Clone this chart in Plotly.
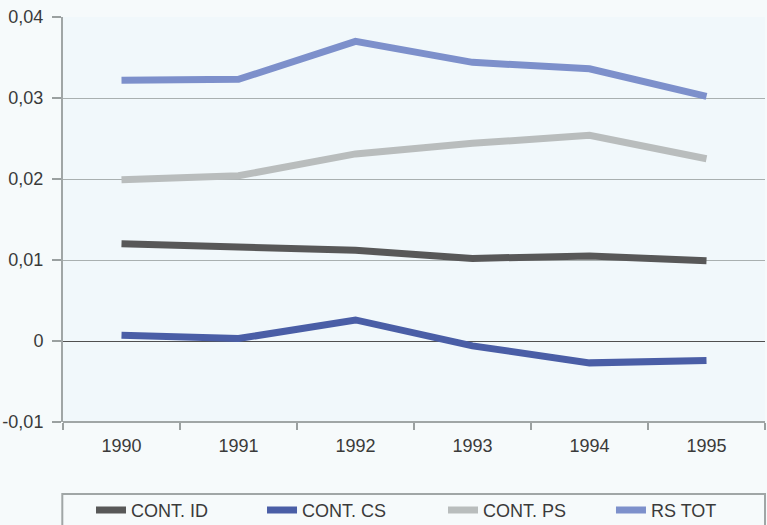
import plotly.graph_objects as go

years = ["1990", "1991", "1992", "1993", "1994", "1995"]
cont_id = [0.0120, 0.0117, 0.0112, 0.0102, 0.0105, 0.0099]
cont_cs = [0.0007, 0.0003, 0.0026, -0.0006, -0.0027, -0.0024]
cont_ps = [0.0199, 0.0204, 0.0231, 0.0244, 0.0254, 0.0225]
rs_tot = [0.0322, 0.0323, 0.0370, 0.0344, 0.0336, 0.0302]

y_ticks = [-0.01, 0.0, 0.01, 0.02, 0.03, 0.04]
y_tick_text = ["-0,01", "0", "0,01", "0,02", "0,03", "0,04"]

series = [
    ("CONT. ID", cont_id, "#585858"),
    ("CONT. CS", cont_cs, "#4a5ea6"),
    ("CONT. PS", cont_ps, "#b9bdbd"),
    ("RS TOT", rs_tot, "#7d90cb"),
]

# one single-entry legend per series, spread across the bottom frame
legend_ids = ["legend", "legend2", "legend3", "legend4"]
legend_x = [0.0399, 0.2835, 0.5413, 0.7806]

font_family = "Liberation Sans, Arial, sans-serif"

fig = go.Figure()
for (name, vals, color), lid in zip(series, legend_ids):
    fig.add_trace(go.Scatter(
        x=years, y=vals, name=name, mode="lines",
        line=dict(color=color, width=7),
        legend=lid,
    ))

legend_layout = {}
for lid, lx in zip(legend_ids, legend_x):
    legend_layout[lid] = dict(
        orientation="h",
        x=lx, xanchor="left",
        y=-0.218, yanchor="middle",
        bgcolor="rgba(0,0,0,0)",
        font=dict(family=font_family, size=18, color="#3a3a3a"),
        itemwidth=30,
    )

fig.update_layout(
    width=767, height=525,
    margin=dict(l=63, r=2, t=17, b=103, autoexpand=False),
    paper_bgcolor="#f6fafb",
    plot_bgcolor="#f1f8fb",
    font=dict(family=font_family, size=18, color="#3a3a3a"),
    showlegend=True,
    xaxis=dict(
        type="category",
        range=[-0.5, 5.5],
        tickson="boundaries",
        ticks="outside", ticklen=7, tickwidth=1.5, tickcolor="#9aa0a0",
        showgrid=False,
        showline=False,
        tickfont=dict(size=18),
        ticklabelstandoff=11,
    ),
    yaxis=dict(
        range=[-0.01, 0.04],
        tickvals=y_ticks, ticktext=y_tick_text,
        ticks="outside", ticklen=9, tickwidth=1.5, tickcolor="#9aa0a0",
        showgrid=True, gridcolor="#a9b0b0", gridwidth=1,
        zeroline=True, zerolinecolor="#505050", zerolinewidth=1,
        showline=True, linecolor="#a0a6a6", linewidth=2,
        tickfont=dict(size=18),
        ticklabelstandoff=5,
    ),
    shapes=[
        # bottom axis line at -0.01
        dict(type="line", xref="paper", yref="paper", x0=0, x1=1, y0=0, y1=0,
             line=dict(color="#a0a6a6", width=2), layer="above"),
        # legend frame
        dict(type="rect", xref="paper", yref="paper", x0=-0.001, x1=1.0,
             y0=-0.28, y1=-0.178, line=dict(color="#a0a6a6", width=2),
             fillcolor="rgba(0,0,0,0)"),
    ],
    **legend_layout,
)

fig.write_html("out.html")
